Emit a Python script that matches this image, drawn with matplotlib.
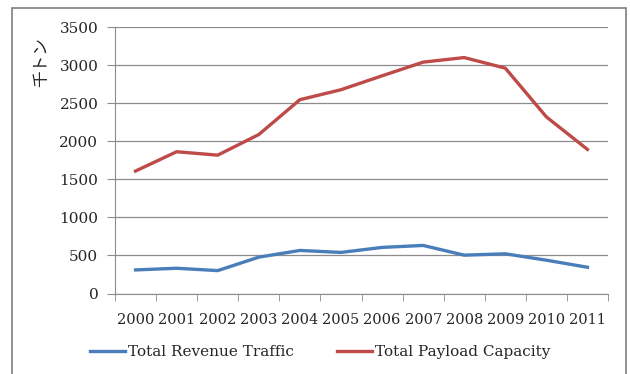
import matplotlib
matplotlib.use("Agg")
import matplotlib.pyplot as plt
from matplotlib.patches import Rectangle
import numpy as np

years = ["2000", "2001", "2002", "2003", "2004", "2005",
         "2006", "2007", "2008", "2009", "2010", "2011"]
revenue_traffic = [310, 332, 301, 478, 566, 540, 606, 632, 504, 522, 438, 345]
payload_capacity = [1610, 1864, 1819, 2090, 2548, 2679, 2862, 3042, 3102, 2963, 2322, 1894]
y_ticks = [0, 500, 1000, 1500, 2000, 2500, 3000, 3500]

serif = ["DejaVu Serif"]
blue = "#4a7ebb"
red = "#be4b48"
grid_c = "#8c8c8c"
text_c = "#262626"

fig = plt.figure(figsize=(6.30, 3.74), dpi=100)
W, H = 630, 374

# outer chart frame
fig.patches.append(Rectangle((12 / W, -0.1), (626 - 12) / W, 1.1 - 8 / H,
                             transform=fig.transFigure, fill=False,
                             edgecolor="#7f7f7f", linewidth=1.2))

ax = fig.add_axes([115 / W, 1 - 293.5 / H, (608 - 115) / W, (293.5 - 27.3) / H])
x = np.arange(len(years))
ax.plot(x, revenue_traffic, color=blue, linewidth=2.4, label="Total Revenue Traffic",
        solid_joinstyle="round")
ax.plot(x, payload_capacity, color=red, linewidth=2.4, label="Total Payload Capacity",
        solid_joinstyle="round")

ax.set_xlim(-0.5, len(years) - 0.5)
ax.set_ylim(0, 3500)
ax.set_yticks(y_ticks)
ax.set_yticklabels([str(v) for v in y_ticks], fontfamily=serif, fontsize=11, color=text_c)
ax.yaxis.grid(True, color=grid_c, linewidth=0.9)
ax.set_axisbelow(True)

# category labels centred, tick marks on the boundaries
ax.set_xticks(x)
ax.set_xticklabels(years, fontfamily=serif, fontsize=10.5, color=text_c)
ax.tick_params(axis="x", length=0, pad=14)
ax.set_xticks(np.arange(len(years) + 1) - 0.5, minor=True)
ax.tick_params(axis="x", which="minor", length=5, color=grid_c, direction="out")
ax.tick_params(axis="y", length=6, color=grid_c, pad=6)

for s in ["top", "right"]:
    ax.spines[s].set_visible(False)
ax.spines["left"].set_color(grid_c)
ax.spines["bottom"].set_color(grid_c)

fig.text(42 / W, 1 - 62 / H, "千トン", rotation=90, ha="center", va="center",
         fontsize=12, color=text_c, family=["Noto Sans CJK JP", "DejaVu Sans"])

leg = fig.legend(loc="center", bbox_to_anchor=(0.508, 1 - 352 / H), ncol=2,
                 frameon=False, prop={"family": serif, "size": 11},
                 handlelength=2.3, handletextpad=0.2, columnspacing=2.8)
for t in leg.get_texts():
    t.set_color(text_c)

fig.savefig("out.png", dpi=100)
